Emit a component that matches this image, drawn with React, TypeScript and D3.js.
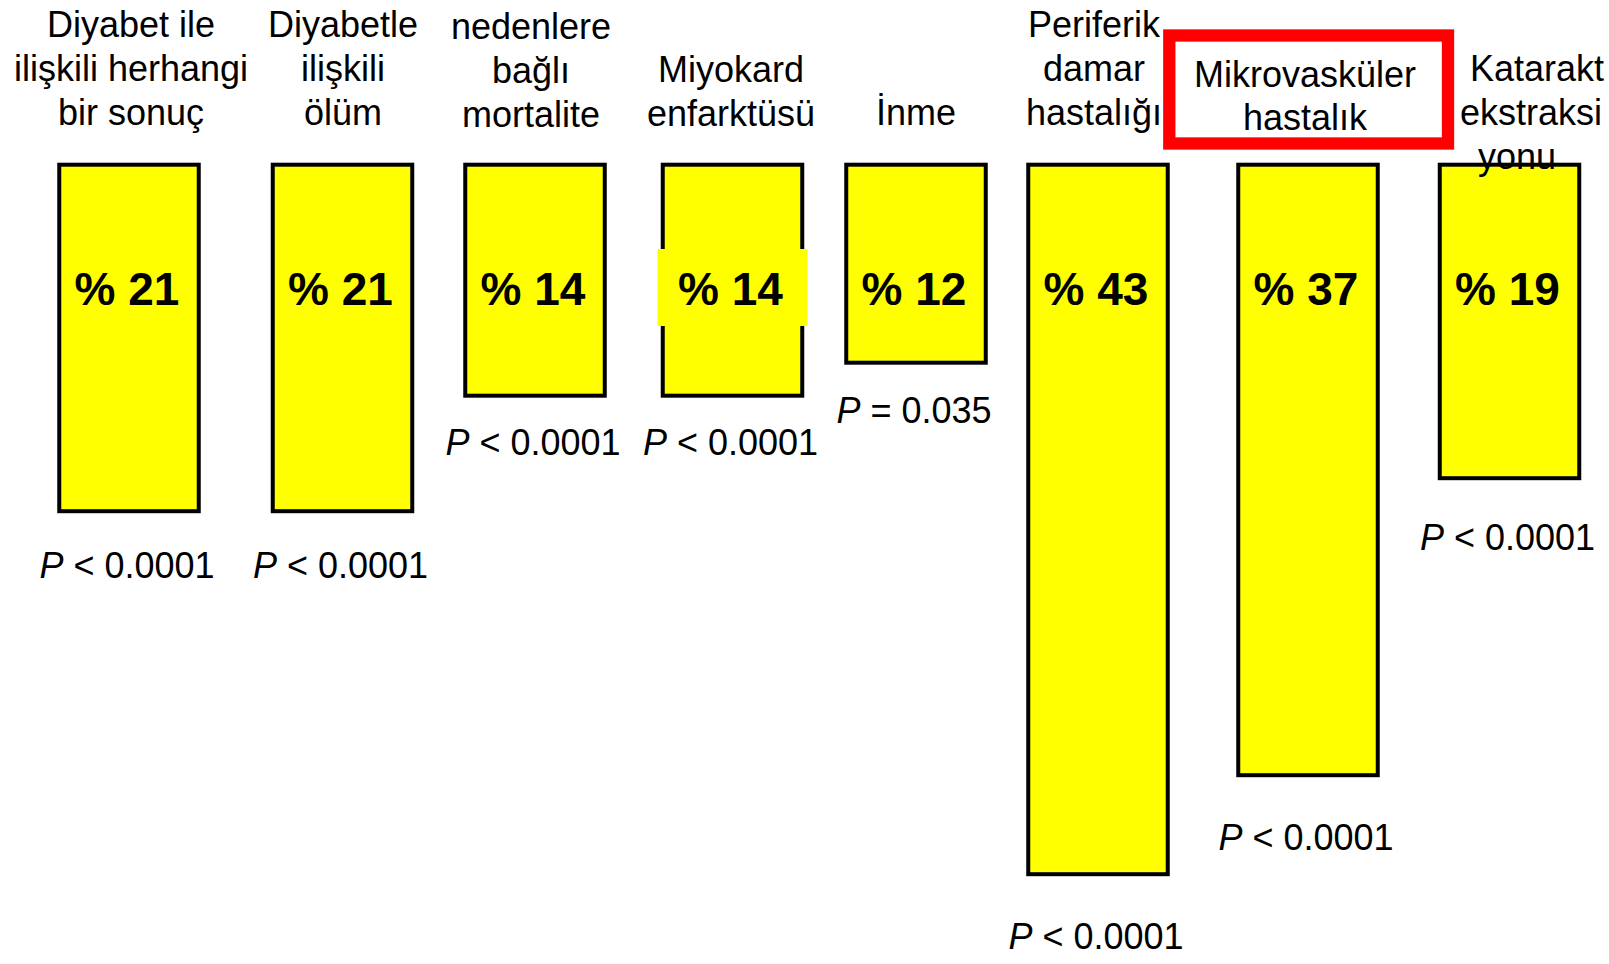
import React from "react";
import * as d3 from "d3";

// ---- data ----
const categories: string[][] = [
  ["Diyabet ile", "ilişkili herhangi", "bir sonuç"],
  ["Diyabetle", "ilişkili", "ölüm"],
  ["nedenlere", "bağlı", "mortalite"],
  ["Miyokard", "enfarktüsü"],
  ["İnme"],
  ["Periferik", "damar", "hastalığı"],
  ["Mikrovasküler", "hastalık"],
  ["Katarakt", "ekstraksi", "yonu"],
];
const values: number[] = [21, 21, 14, 14, 12, 43, 37, 19];
const pOperators: string[] = ["<", "<", "<", "<", "=", "<", "<", "<"];
const pNumbers: string[] = ["0.0001", "0.0001", "0.0001", "0.0001", "0.035", "0.0001", "0.0001", "0.0001"];
const boxedIndex = 6; // category framed in red
const backdropIndex = 3; // value label with yellow backdrop

// ---- layout (not data) ----
const W = 1609;
const H = 964;
const barCenters = [129, 342.5, 535, 732.5, 916, 1098, 1308, 1509.5];
const labelCenters = [131, 343, 531, 731, 916, 1094, 1305, 1530];
const labelFirstBaseline = [36.7, 36.7, 39, 81.5, 124.5, 36.5, 86.7, 80.5];
const labelLineShift: Record<number, number[]> = { 7: [7, 1, -13] };
const pGap = [67, 67, 59, 59, 60, 75, 75, 72];
const barWidth = 139.5;
const linePitch = 44;
const FONT = "'Liberation Sans', Arial, Helvetica, sans-serif";

export default function App() {
  const idx = values.map((_, i) => i);
  const x = d3.scaleOrdinal<number, number>().domain(idx).range(barCenters);
  const y = d3.scaleLinear().domain([0, 45]).range([164.7, 164.7 + 45 * 16.5]);

  return (
    <svg
      width={W}
      height={H}
      style={{ position: "fixed", left: 0, top: 0, background: "#fff" }}
      fontFamily={FONT}
    >
      <rect x={0} y={0} width={W} height={H} fill="#fff" />
      {/* bars */}
      {idx.map((i) => (
        <rect
          key={"b" + i}
          x={x(i) - barWidth / 2}
          y={y(0)}
          width={barWidth}
          height={y(values[i]) - y(0)}
          fill="#FFFF00"
          stroke="#000"
          strokeWidth={4}
        />
      ))}
      {/* backdrop behind one value label */}
      <rect
        x={x(backdropIndex) - 75}
        y={249}
        width={150}
        height={77}
        fill="#FFFF00"
      />
      {/* value labels */}
      {idx.map((i) => (
        <text
          key={"v" + i}
          x={x(i) - 2}
          y={305}
          textAnchor="middle"
          fontSize={46}
          fontWeight="bold"
          fill="#000"
        >
          {"% " + values[i]}
        </text>
      ))}
      {/* p-values */}
      {idx.map((i) => (
        <text
          key={"p" + i}
          x={x(i) - 2}
          y={y(values[i]) + pGap[i]}
          textAnchor="middle"
          fontSize={36}
          fill="#000"
        >
          <tspan fontStyle="italic">P</tspan>
          {" " + pOperators[i] + " " + pNumbers[i]}
        </text>
      ))}
      {/* category labels (except boxed one) */}
      {idx
        .filter((i) => i !== boxedIndex)
        .map((i) => (
          <text
            key={"c" + i}
            textAnchor="middle"
            fontSize={36}
            fill="#000"
          >
            {categories[i].map((line, j) => (
              <tspan
                key={j}
                x={labelCenters[i] + (labelLineShift[i] ? labelLineShift[i][j] : 0)}
                y={labelFirstBaseline[i] + j * linePitch}
              >
                {line}
              </tspan>
            ))}
          </text>
        ))}
      {/* red frame */}
      <rect
        x={1169.3}
        y={35.5}
        width={278.7}
        height={108}
        fill="#fff"
        stroke="#FF0000"
        strokeWidth={12.3}
      />
      <text textAnchor="middle" fontSize={36} fill="#000">
        {categories[boxedIndex].map((line, j) => (
          <tspan
            key={j}
            x={labelCenters[boxedIndex]}
            y={labelFirstBaseline[boxedIndex] + j * 43.5}
          >
            {line}
          </tspan>
        ))}
      </text>
    </svg>
  );
}
